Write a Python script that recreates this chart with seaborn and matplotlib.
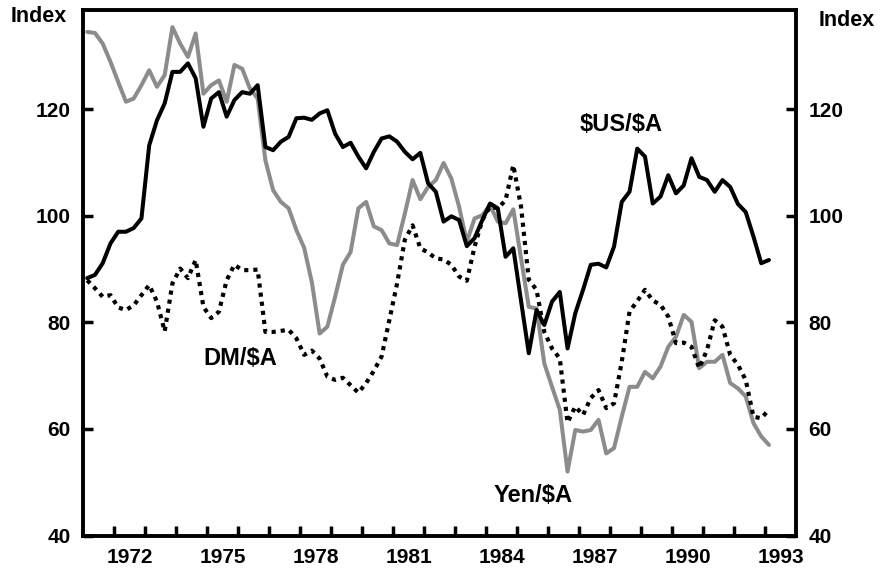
import numpy as np
import pandas as pd
import seaborn as sns
import matplotlib.pyplot as plt

# quarterly, 1971Q1 .. 1993Q1
quarters = pd.period_range('1971Q1', '1993Q1', freq='Q')

us_a = [88.3, 88.9, 91.1, 94.8, 97.0, 97.0, 97.7, 99.5, 113.2, 117.9,
        121.1, 127.0, 127.0, 128.6, 125.8, 116.7, 122.0, 123.2, 118.6, 121.7,
        123.2, 122.9, 124.5, 112.9, 112.3, 113.9, 114.8, 118.3, 118.4, 118.0,
        119.2, 119.8, 115.4, 112.9, 113.7, 111.1, 108.9, 112.0, 114.5, 114.9,
        113.9, 112.0, 110.6, 111.8, 106.1, 104.5, 98.9, 99.9, 99.2, 94.3,
        95.8, 99.2, 102.3, 101.4, 92.3, 93.9, 84.0, 74.2, 82.3, 79.5,
        83.9, 85.7, 75.1, 81.7, 86.1, 90.8, 91.0, 90.3, 94.2, 102.6,
        104.5, 112.6, 111.1, 102.3, 103.6, 107.6, 104.2, 105.7, 110.8, 107.3,
        106.7, 104.5, 106.7, 105.4, 102.2, 100.7, 96.1, 91.1, 91.7]

yen_a = [134.5, 134.3, 132.3, 128.9, 125.1, 121.4, 122.0, 124.5, 127.3, 124.2,
         126.4, 135.4, 132.3, 129.8, 134.2, 122.9, 124.5, 125.4, 121.4, 128.3,
         127.6, 123.9, 122.0, 110.4, 104.8, 102.6, 101.4, 97.3, 94.0, 87.5,
         77.9, 79.2, 84.8, 90.8, 93.2, 101.4, 102.6, 98.0, 97.3, 94.8,
         94.5, 100.4, 106.7, 103.1, 105.4, 106.7, 109.9, 107.0, 101.7, 95.1,
         99.5, 100.1, 102.0, 98.9, 98.6, 101.2, 92.0, 82.9, 82.6, 72.3,
         67.9, 63.6, 52.0, 59.8, 59.5, 59.8, 61.7, 55.4, 56.4, 62.3,
         67.9, 67.9, 70.7, 69.5, 71.7, 75.4, 77.3, 81.4, 80.1, 71.4,
         72.6, 72.6, 73.9, 68.6, 67.6, 66.1, 61.1, 58.6, 57.0]

dm_a = [87.9, 86.4, 84.8, 85.1, 82.8, 82.3, 83.2, 85.1, 87.0, 83.9,
        78.3, 87.3, 90.1, 88.3, 91.7, 82.9, 80.8, 82.0, 87.9, 90.8,
        89.8, 89.8, 89.9, 78.2, 78.2, 78.4, 78.6, 77.0, 73.9, 74.7,
        73.2, 69.8, 69.2, 69.6, 68.2, 66.8, 68.6, 70.9, 73.6, 80.4,
        87.3, 95.5, 98.2, 93.9, 93.1, 92.0, 91.8, 90.8, 88.6, 87.8,
        94.2, 99.2, 101.7, 101.4, 102.9, 109.5, 101.7, 88.0, 86.1, 78.2,
        75.1, 73.2, 61.2, 64.2, 62.6, 65.8, 67.3, 63.9, 64.8, 72.6,
        82.0, 84.0, 86.1, 84.1, 83.3, 81.1, 76.1, 76.2, 75.4, 71.4,
        74.8, 80.4, 79.2, 73.9, 72.0, 69.2, 62.3, 62.0, 63.6]

year_labels = ['1972', '1975', '1978', '1981', '1984', '1987', '1990', '1993']
y_ticks = [40, 60, 80, 100, 120]

# quarter midpoints as decimal years
t = quarters.year + (quarters.quarter - 0.5) / 4
df = pd.DataFrame({'t': t, 'us': us_a, 'yen': yen_a, 'dm': dm_a})

sns.set_theme(style='white')
plt.rcParams['font.family'] = ['Liberation Sans', 'DejaVu Sans']
plt.rcParams['font.weight'] = 'bold'
plt.rcParams['text.color'] = 'black'
plt.rcParams['xtick.color'] = 'black'
plt.rcParams['ytick.color'] = 'black'
plt.rcParams['axes.edgecolor'] = 'black'

fig = plt.figure(figsize=(8.81, 5.70), dpi=100)
ax = fig.add_axes([0.0946, 0.0605, 0.809, 0.9228])

sns.lineplot(data=df, x='t', y='yen', color='#8c8c8c', linewidth=2.9, ax=ax)
sns.lineplot(data=df, x='t', y='dm', color='black', linewidth=3.0,
             linestyle=(0, (1, 1.2)), ax=ax)
sns.lineplot(data=df, x='t', y='us', color='black', linewidth=2.9, ax=ax)
ax.lines[1].set_dash_capstyle('butt')

ax.set_xlim(1971, 1994)
ax.set_ylim(40, 138.7)
ax.set_xlabel('')
ax.set_ylabel('')

ax.set_xticks([int(y) + 0.5 for y in year_labels])
ax.set_xticklabels(year_labels)
ax.set_xticks(np.arange(1972, 1994), minor=True)
ax.set_yticks(y_ticks)

ax.tick_params(axis='x', which='major', length=0, pad=9, labelsize=15,
               labelcolor='black')
ax.tick_params(axis='x', which='minor', direction='in', length=7, width=2.5,
               color='black', bottom=True)
ax.tick_params(axis='y', which='major', direction='in', length=7, width=2.5,
               color='black', left=True, right=True, labelleft=True,
               labelright=True, labelsize=15, pad=9, labelcolor='black')

for s in ax.spines.values():
    s.set_visible(True)
    s.set_linewidth(2.8)
    s.set_color('black')
    s.set_zorder(5)

ax.text(1988.35, 117.2, r'\$US/\$A', fontsize=17, fontweight='bold',
        ha='center', va='center', color='black')
ax.text(1976.05, 73.3, r'DM/\$A', fontsize=17, fontweight='bold',
        ha='center', va='center', color='black')
ax.text(1985.5, 47.6, r'Yen/\$A', fontsize=17, fontweight='bold',
        ha='center', va='center', color='black')

fig.text(39 / 881, 1 - 17 / 570, 'Index', fontsize=15.5, fontweight='bold',
         ha='center', va='center', color='black')
fig.text(847 / 881, 1 - 21 / 570, 'Index', fontsize=15.5, fontweight='bold',
         ha='center', va='center', color='black')

fig.savefig('out.png', dpi=100)
